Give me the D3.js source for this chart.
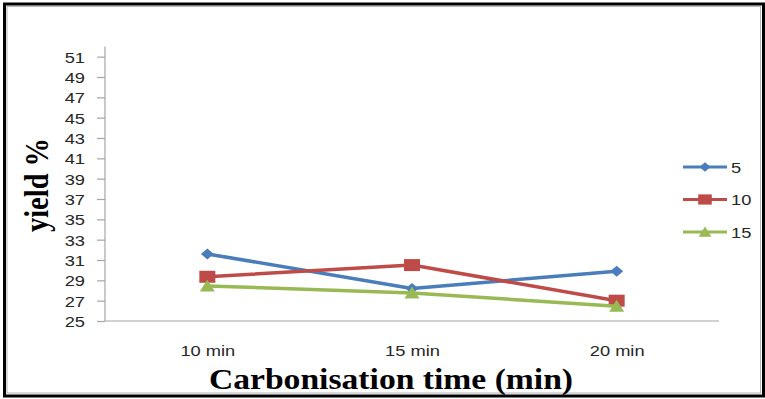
<!DOCTYPE html>
<html>
<head>
<meta charset="utf-8">
<script src="https://cdn.jsdelivr.net/npm/d3@7"></script>
<style>
  html, body { margin: 0; padding: 0; background: #fff; }
  svg { display: block; }
</style>
</head>
<body>
<svg id="chart" width="765" height="399"></svg>
<script>
// Carbonisation time categories and yield series (%)
const categories = ["10 min", "15 min", "20 min"];
const seriesNames = ["5", "10", "15"];
const yield5 = [31.6, 28.2, 29.9];
const yield10 = [29.35, 30.5, 27.0];
const yield15 = [28.45, 27.75, 26.45];
const yTicks = [25, 27, 29, 31, 33, 35, 37, 39, 41, 43, 45, 47, 49, 51];

const series = [
  { name: seriesNames[0], values: yield5, color: "#4A7EBB", marker: "diamond" },
  { name: seriesNames[1], values: yield10, color: "#BE4B48", marker: "square" },
  { name: seriesNames[2], values: yield15, color: "#98B954", marker: "triangle" }
];

const svg = d3.select("#chart");
const plot = { left: 105, right: 719, top: 46.5, bottom: 321 };
const stretch = 1.18; // horizontal widening applied to all text
const labelColor = "#262626";

// frame
svg.append("rect").attr("x", 4.5).attr("y", 4).attr("width", 759).attr("height", 392)
  .attr("fill", "#fff").attr("stroke", "#000").attr("stroke-width", 3);
svg.append("rect").attr("x", 7).attr("y", 6.5).attr("width", 753.5).attr("height", 386.5)
  .attr("fill", "none").attr("stroke", "#b4b4b4").attr("stroke-width", 1);

const x = d3.scalePoint().domain(categories).range([plot.left, plot.right]).padding(0.5);
const y = d3.scaleLinear().domain([25, 52]).range([plot.bottom, plot.top]);

// y axis
const yAxis = svg.append("g").attr("transform", `translate(${plot.left},0)`)
  .call(d3.axisLeft(y).tickValues(yTicks).tickSize(8).tickPadding(12).tickFormat(d3.format("d")));
yAxis.select(".domain").attr("stroke", "#a6a6a6").attr("stroke-width", 1.2).attr("d", `M0,${plot.top}V${plot.bottom}`);
yAxis.selectAll(".tick line").attr("stroke", "#a6a6a6").attr("stroke-width", 1.2);
yAxis.selectAll(".tick text")
  .attr("fill", labelColor).attr("font-family", "Liberation Sans, Arial, sans-serif").attr("font-size", 15.5)
  .attr("x", null).attr("dy", "0.36em").attr("text-anchor", "end")
  .attr("transform", `translate(-20,0) scale(${stretch},1)`);

// x axis
const xAxis = svg.append("g").attr("transform", `translate(0,${plot.bottom})`)
  .call(d3.axisBottom(x).tickSize(0).tickPadding(0));
xAxis.select(".domain").attr("stroke", "#a6a6a6").attr("stroke-width", 1.2).attr("d", `M${plot.left},0H${plot.right}`);
xAxis.selectAll(".tick text")
  .attr("fill", labelColor).attr("font-family", "Liberation Sans, Arial, sans-serif").attr("font-size", 15.5)
  .attr("y", 0).attr("dy", 0)
  .attr("transform", `translate(0,35) scale(${stretch},1)`);

// marker shapes
function drawMarker(g, type, cx, cy, color, k) {
  if (type === "diamond") {
    g.append("path").attr("d", `M${cx},${cy - 5.5 * k}L${cx + 6.5 * k},${cy}L${cx},${cy + 5.5 * k}L${cx - 6.5 * k},${cy}Z`)
      .attr("fill", color);
  } else if (type === "square") {
    g.append("rect").attr("x", cx - 8 * k).attr("y", cy - 6 * k).attr("width", 16 * k).attr("height", 12 * k)
      .attr("fill", color);
  } else {
    g.append("path").attr("d", `M${cx},${cy - 6.5 * k}L${cx + 7.5 * k},${cy + 5.5 * k}L${cx - 7.5 * k},${cy + 5.5 * k}Z`)
      .attr("fill", color);
  }
}

const line = d3.line().x((d, i) => x(categories[i])).y(d => y(d));

series.forEach(s => {
  const g = svg.append("g");
  g.append("path").datum(s.values).attr("d", line)
    .attr("fill", "none").attr("stroke", s.color).attr("stroke-width", 3.5).attr("stroke-linejoin", "round");
  s.values.forEach((v, i) => drawMarker(g, s.marker, x(categories[i]), y(v), s.color, 1));
});

// legend
const legend = svg.append("g");
series.forEach((s, i) => {
  const ly = 167 + i * 32.5;
  legend.append("line").attr("x1", 683).attr("x2", 727).attr("y1", ly).attr("y2", ly)
    .attr("stroke", s.color).attr("stroke-width", 3);
  drawMarker(legend, s.marker, 705, ly, s.color, 0.85);
  legend.append("text").text(s.name)
    .attr("transform", `translate(731,${ly}) scale(${stretch},1)`)
    .attr("dy", "0.36em").attr("fill", labelColor)
    .attr("font-family", "Liberation Sans, Arial, sans-serif").attr("font-size", 15.5);
});

// axis titles
svg.append("text").text("Carbonisation time (min)")
  .attr("transform", `translate(391,389) scale(${stretch},1)`)
  .attr("text-anchor", "middle").attr("font-family", "Liberation Serif, Times New Roman, serif")
  .attr("font-weight", "bold").attr("font-size", 28.5).attr("fill", "#000");

svg.append("text").text("yield %")
  .attr("transform", `translate(48,185) scale(${stretch},1) rotate(-90)`)
  .attr("text-anchor", "middle").attr("font-family", "Liberation Serif, Times New Roman, serif")
  .attr("font-weight", "bold").attr("font-size", 28.5).attr("fill", "#000");
</script>
</body>
</html>
